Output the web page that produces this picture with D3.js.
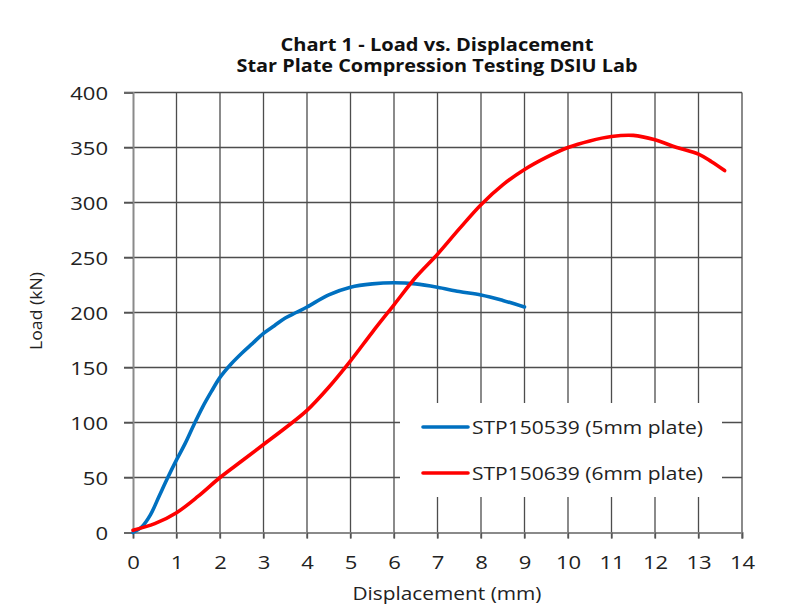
<!DOCTYPE html>
<html><head><meta charset="utf-8">
<script src="https://cdn.jsdelivr.net/npm/d3@7"></script>
<style>body{margin:0;background:#fff}svg{display:block}</style>
</head><body>
<svg id="c" width="803" height="604"></svg>
<script>
const titleLines = ["Chart 1 - Load vs. Displacement", "Star Plate Compression Testing DSIU Lab"];
const xLabel = "Displacement (mm)";
const yLabel = "Load (kN)";
const xTicks = [0,1,2,3,4,5,6,7,8,9,10,11,12,13,14];
const yTicks = [0,50,100,150,200,250,300,350,400];
const seriesNames = ["STP150539 (5mm plate)", "STP150639 (6mm plate)"];
const seriesColors = ["#0070C0", "#FF0000"];
const blueX = [0,0.2,0.4,0.6,0.8,1.0,1.2,1.4,1.6,1.8,2.0,2.25,2.5,2.75,3.0,3.25,3.5,3.75,4.0,4.5,5.0,5.5,6.0,6.5,7.0,7.5,8.0,8.5,9.0];
const blueY = [0,5,16,33,50,66,81,98,114,128,141,153,163,172,181,188,195,200,205,216,223,226,227,226,223,219,216,211,205];
const redX = [0,0.5,1,1.5,2,2.5,3,3.5,4,4.5,5,5.5,6,6.5,7,7.5,8,8.5,9,9.5,10,10.5,11,11.5,12,12.5,13,13.3,13.6];
const redY = [2,8,18,33,50,65,80,95,111,132,156,182,207,232,253,276,298,316,330,341,350,356,360,361,357,350,344,337,329];

const svg = d3.select("#c");
const font = "'Open Sans', sans-serif";
const x = d3.scaleLinear().domain([0,14]).range([133,742]);
const y = d3.scaleLinear().domain([0,400]).range([532.5,92.5]);

// gridlines
const grid = svg.append("g").attr("stroke","#3a3a3a").attr("stroke-width",1.3).attr("opacity",0.9);
grid.selectAll(".gh").data(yTicks.filter(d=>d>0)).join("line")
  .attr("x1",x(0)-9).attr("x2",x(14)).attr("y1",d=>y(d)).attr("y2",d=>y(d));
grid.selectAll(".gv").data(xTicks.filter(d=>d>0)).join("line")
  .attr("x1",d=>x(d)).attr("x2",d=>x(d)).attr("y1",y(400)).attr("y2",y(0)+6);

// axes
const yAxis = svg.append("g").attr("transform",`translate(${x(0)},0)`)
  .call(d3.axisLeft(y).tickValues(yTicks).tickSize(9).tickPadding(16));
const xAxis = svg.append("g").attr("transform",`translate(0,${y(0)})`)
  .call(d3.axisBottom(x).tickValues(xTicks).tickSize(6).tickPadding(14));
[yAxis,xAxis].forEach(a=>{
  a.select(".domain").attr("stroke","#8a8a8a").attr("stroke-width",2);
  a.selectAll(".tick line").attr("stroke","#555").attr("stroke-width",1.3);
  a.selectAll(".tick text").attr("font-family",font).attr("font-size",18.5).attr("fill","#222")
    .attr("textLength",d=>String(d).length*12.6).attr("lengthAdjust","spacingAndGlyphs");
});
xAxis.selectAll(".tick text").attr("dy",null).attr("y",36);
yAxis.selectAll(".tick text").attr("dy","0.36em");

// lines
const line = d3.line().x(d=>x(d[0])).y(d=>y(d[1])).curve(d3.curveCatmullRom.alpha(0.5));
const series = [d3.zip(blueX,blueY), d3.zip(redX,redY)];
svg.append("g").selectAll("path").data(series).join("path")
  .attr("d",line).attr("fill","none")
  .attr("stroke",(d,i)=>seriesColors[i]).attr("stroke-width",3.6)
  .attr("stroke-linejoin","round").attr("stroke-linecap","round");

// legend
const lg = svg.append("g");
lg.append("rect").attr("x",400).attr("y",403).attr("width",322).attr("height",94).attr("fill","#fff");
const items = lg.selectAll("g").data(seriesNames).join("g")
  .attr("transform",(d,i)=>`translate(0,${427+i*46})`);
items.append("line").attr("x1",423).attr("x2",468).attr("y1",0).attr("y2",0)
  .attr("stroke",(d,i)=>seriesColors[i]).attr("stroke-width",3.6).attr("stroke-linecap","round");
items.append("text").attr("x",472).attr("y",6.5).text(d=>d)
  .attr("font-family",font).attr("font-size",18).attr("fill","#222")
  .attr("textLength",231).attr("lengthAdjust","spacingAndGlyphs");

// title
svg.append("g").selectAll("text").data(titleLines).join("text")
  .attr("x",437).attr("y",(d,i)=>50.5+i*21.5).attr("text-anchor","middle")
  .attr("font-family",font).attr("font-weight","bold").attr("font-size",17).attr("fill","#111")
  .attr("textLength",(d,i)=>[313,401][i]).attr("lengthAdjust","spacingAndGlyphs")
  .text(d=>d);

// axis titles
svg.append("text").attr("x",447).attr("y",600).attr("text-anchor","middle")
  .attr("font-family",font).attr("font-size",17.5).attr("fill","#222")
  .attr("textLength",189).attr("lengthAdjust","spacingAndGlyphs").text(xLabel);
svg.append("text").attr("transform","translate(42,311) rotate(-90)").attr("text-anchor","middle")
  .attr("font-family",font).attr("font-size",15.5).attr("fill","#222")
  .attr("textLength",78).attr("lengthAdjust","spacingAndGlyphs").text(yLabel);
</script>
</body></html>
